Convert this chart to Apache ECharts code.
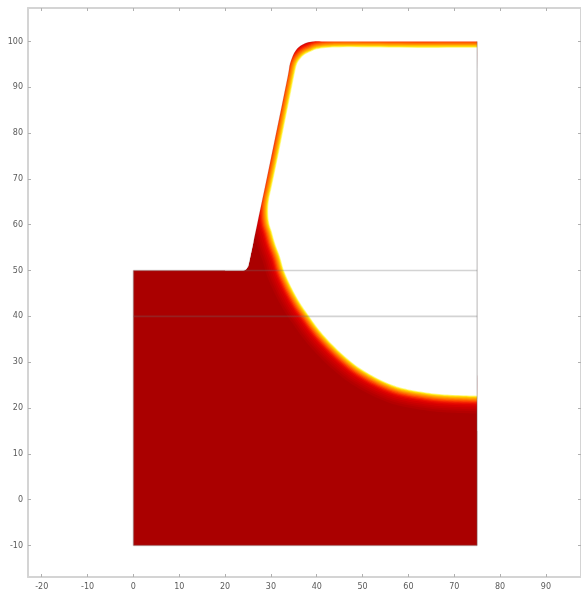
<!DOCTYPE html>
<html><head><meta charset="utf-8">
<script src="https://cdn.jsdelivr.net/npm/echarts@6/dist/echarts.min.js"></script>
<style>html,body{margin:0;padding:0;background:#fff;overflow:hidden}#c{width:581px;height:595px}</style>
</head><body><div id="c"></div>
<script>
const xTicks=[-20,-10,0,10,20,30,40,50,60,70,80,90];
const yTicks=[-10,0,10,20,30,40,50,60,70,80,90,100];
// outer wall of the domain
const wallX=[0,0,24.0,24.5,24.9,25.3,27.4,29.5,33.0,33.8,34.2,35.0,36.0,37.5,39.3,42,50,75];
const wallY=[-10,50,50,50.2,50.7,52.0,62.0,72.0,89.0,93.0,95.2,97.3,98.7,99.6,100,100,100,100];
// phase interface (yellow edge)
const interfaceX=[75,70,60,50,45,42.5,40,38.8,37.5,36.5,35.7,35.1,34.6,34.2,32.6,31.4,30.2,29.6,29.4,29.6,30.2,30.9,32,32.8,33.9,35.2,36.6,38.2,39.9,41.8,44.2,46.6,49,51.6,54.5,57.5,60.4,63.3,66.2,69.1,72,75];
const interfaceY=[98.6,98.6,98.6,98.7,98.7,98.6,98.3,97.8,97.2,96.3,95,92.5,90,88,80,74,68.3,65.5,63,60.5,58.5,56,53,50.2,47.6,45,42.6,40.3,37.9,35.6,33.1,30.9,29,27.4,25.9,24.7,24,23.5,23.1,22.9,22.8,22.7];
// gradient: depth below the interface and its colour, deep to shallow
const depths=[4.4,3.9,3.4,3.0,2.6,2.2,1.9,1.65,1.4,1.15,0.92,0.7,0.5,0.32,0.16];
const depthColors=['#aa0000','#b40000','#be0000','#c80000','#d40000','#e00400','#ec1000','#f62800','#ff4800','#ff6c00','#ff8c00','#ffac00','#ffcc00','#ffec20','#fffb90'];
// mesh lines drawn over the field
const meshX=[[0,75],[0,75],[75,75],[0,75],[0,0]];
const meshY=[[50,50],[40,40],[-10,100],[-10,-10],[-10,50]];
const lineColor='rgba(110,110,110,0.3)';
const zip=(a,b)=>a.map((v,i)=>[v,b[i]]);
const wall=zip(wallX,wallY), iface=zip(interfaceX,interfaceY);
// round the drawn curve between the read points
function rounded(pts){
  const out=[];
  for(let i=0;i<pts.length-1;i++){
    const a=pts[Math.max(i-1,0)],b=pts[i],c=pts[i+1],d=pts[Math.min(i+2,pts.length-1)];
    for(let k=0;k<5;k++){
      const t=k/5,t2=t*t,t3=t2*t;
      out.push([0,1].map(j=>0.5*(2*b[j]+(c[j]-a[j])*t+(2*a[j]-5*b[j]+4*c[j]-d[j])*t2+(3*b[j]-a[j]-3*c[j]+d[j])*t3)));
    }
  }
  out.push(pts[pts.length-1]);
  return out;
}
function renderField(params,api){
  if(params.dataIndex!==0) return null;
  const P=p=>api.coord(p);
  const ifacePx=rounded(iface.map(P));
  const wallPx=rounded(wall.slice(2).map(P));
  const base=wall.slice(0,2).map(P).concat(wallPx,[P([75,-10])]);
  const children=[{type:'polygon',shape:{points:base},style:{fill:'#aa0000'}}];
  const unit=api.size([1,0])[0];
  depths.forEach((d,i)=>{
    children.push({type:'polyline',shape:{points:ifacePx},
      style:{stroke:depthColors[i],lineWidth:2*d*unit,fill:null,lineJoin:'round',lineCap:'butt'}});
  });
  // empty side of the interface
  children.push({type:'polygon',shape:{points:ifacePx},style:{fill:'#fff'}});
  // outside of the wall
  const wallOut=wallPx.concat([[75,15],[80,15],[80,105],[20,105],[20,50]].map(P));
  children.push({type:'polygon',shape:{points:wallOut},style:{fill:'#fff'}});
  return {type:'group',children};
}
const axisCommon=(ticks)=>({
  axisLine:{show:true,onZero:false,lineStyle:{color:'#d4d4d4',width:2}},
  axisTick:{show:true,inside:true,length:3,customValues:ticks,lineStyle:{color:'#b0b0b0',width:1}},
  splitLine:{show:false}
});
const labelStyle={color:'#5a5a5a',fontSize:8,fontFamily:'DejaVu Sans'};
const series=[{type:'custom',coordinateSystem:'cartesian2d',silent:true,clip:true,data:[[0,0]],renderItem:renderField,z:1}];
meshX.forEach((mx,i)=>series.push({type:'line',data:zip(mx,meshY[i]),symbol:'none',silent:true,z:3,
  lineStyle:{color:lineColor,width:1.6}}));
series.push({type:'line',data:wall.slice(2,15),symbol:'none',smooth:0.2,silent:true,z:3,lineStyle:{color:'rgba(110,110,110,0.15)',width:1}});
const chart=echarts.init(document.getElementById('c'),null,{renderer:'canvas'});
chart.setOption({
  animation:false,backgroundColor:'#fff',
  grid:{left:28,top:8,width:553.5,height:569,containLabel:false},
  xAxis:[
    Object.assign({type:'value',position:'bottom',min:-23,max:97.66,
      axisLabel:Object.assign({show:true,customValues:xTicks,margin:6},labelStyle)},axisCommon(xTicks)),
    Object.assign({type:'value',position:'top',min:-23,max:97.66,axisLabel:{show:false}},axisCommon(xTicks))
  ],
  yAxis:[
    Object.assign({type:'value',position:'left',min:-16.87,max:107.3,
      axisLabel:Object.assign({show:true,customValues:yTicks,margin:5},labelStyle)},axisCommon(yTicks)),
    Object.assign({type:'value',position:'right',min:-16.87,max:107.3,axisLabel:{show:false}},axisCommon(yTicks))
  ],
  series
});
</script></body></html>
